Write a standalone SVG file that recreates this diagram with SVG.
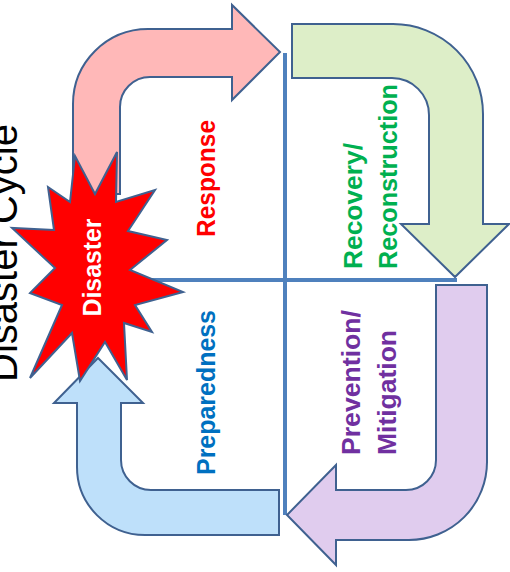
<svg xmlns="http://www.w3.org/2000/svg" width="510" height="572" viewBox="0 0 510 572">
<style>
.arrow{stroke:#3F6190;stroke-width:2;stroke-linejoin:miter}
.axis{stroke:#4F81BD;stroke-width:4;fill:none}
.lbl{font-family:"Liberation Sans",Arial,sans-serif;font-weight:bold;font-size:25px}
.title{font-family:"Liberation Sans",Arial,sans-serif;font-size:40px;fill:#000}
</style>
<rect width="510" height="572" fill="#fff"/>
<g id="connectors">
<line class="axis" x1="285" y1="53" x2="285" y2="515"/>
<line class="axis" x1="150" y1="280" x2="457" y2="280"/>
</g>
<g id="title">
<text class="title" transform="translate(17,253) rotate(-90)" text-anchor="middle">Disaster Cycle</text>
</g>
<g id="response-arrow">
<path class="arrow" fill="#FFB8B8" d="M73,194 L73,104 A75,75 0 0 1 148,29 L232,29 L232,5 L280,52 L232,100 L232,77 L150,77 A30,30 0 0 0 120,107 L120,194 Z"/>
</g>
<g id="recovery-arrow">
<path class="arrow" fill="#DDEEC8" d="M292,24 L393,24 A90,90 0 0 1 483,114 L483,224 L509,224 L455,277 L401,224 L429,224 L429,115 A37,37 0 0 0 392,78 L292,78 Z"/>
</g>
<g id="prevention-arrow">
<path class="arrow" fill="#E0CCEE" d="M436,285 L487,285 L487,462 A78,78 0 0 1 409,540 L336,540 L336,565 L287,515 L336,465 L336,490 L406,490 A30,30 0 0 0 436,460 Z"/>
</g>
<g id="preparedness-arrow">
<path class="arrow" fill="#BEE0FA" d="M98,358 L143,403 L121,403 L121,460 A30,30 0 0 0 151,490 L279,490 L279,535 L145,535 A68,68 0 0 1 77,467 L77,403 L54,403 Z"/>
</g>
<g id="disaster">
<polygon class="arrow" fill="#FF0000" points="75,156 95,194 117,152 116,202 155,190 128,231 167,240 130,270 183,292 135,305 152,332 124,323 127,380 105,342 80,381 72,333 30,378 62,305 30,293 55,268 12,228 54,230 48,187 70,202"/>
<text class="lbl" fill="#FFFFFF" transform="translate(101,267.5) rotate(-90)" text-anchor="middle" textLength="98" lengthAdjust="spacingAndGlyphs">Disaster</text>
</g>
<g id="response-label">
<text class="lbl" fill="#FF0000" transform="translate(215,178.5) rotate(-90)" text-anchor="middle" textLength="117" lengthAdjust="spacingAndGlyphs">Response</text>
</g>
<g id="preparedness-label">
<text class="lbl" fill="#0070C0" transform="translate(215,392.5) rotate(-90)" text-anchor="middle" textLength="165" lengthAdjust="spacingAndGlyphs">Preparedness</text>
</g>
<g id="recovery-label">
<text class="lbl" fill="#00B050" transform="translate(362,269) rotate(-90)" textLength="126" lengthAdjust="spacingAndGlyphs">Recovery/</text>
<text class="lbl" fill="#00B050" transform="translate(397,269) rotate(-90)" textLength="185" lengthAdjust="spacingAndGlyphs">Reconstruction</text>
</g>
<g id="prevention-label">
<text class="lbl" fill="#7030A0" transform="translate(360,455) rotate(-90)" textLength="145" lengthAdjust="spacingAndGlyphs">Prevention/</text>
<text class="lbl" fill="#7030A0" transform="translate(396,455) rotate(-90)" textLength="125" lengthAdjust="spacingAndGlyphs">Mitigation</text>
</g>
</svg>
